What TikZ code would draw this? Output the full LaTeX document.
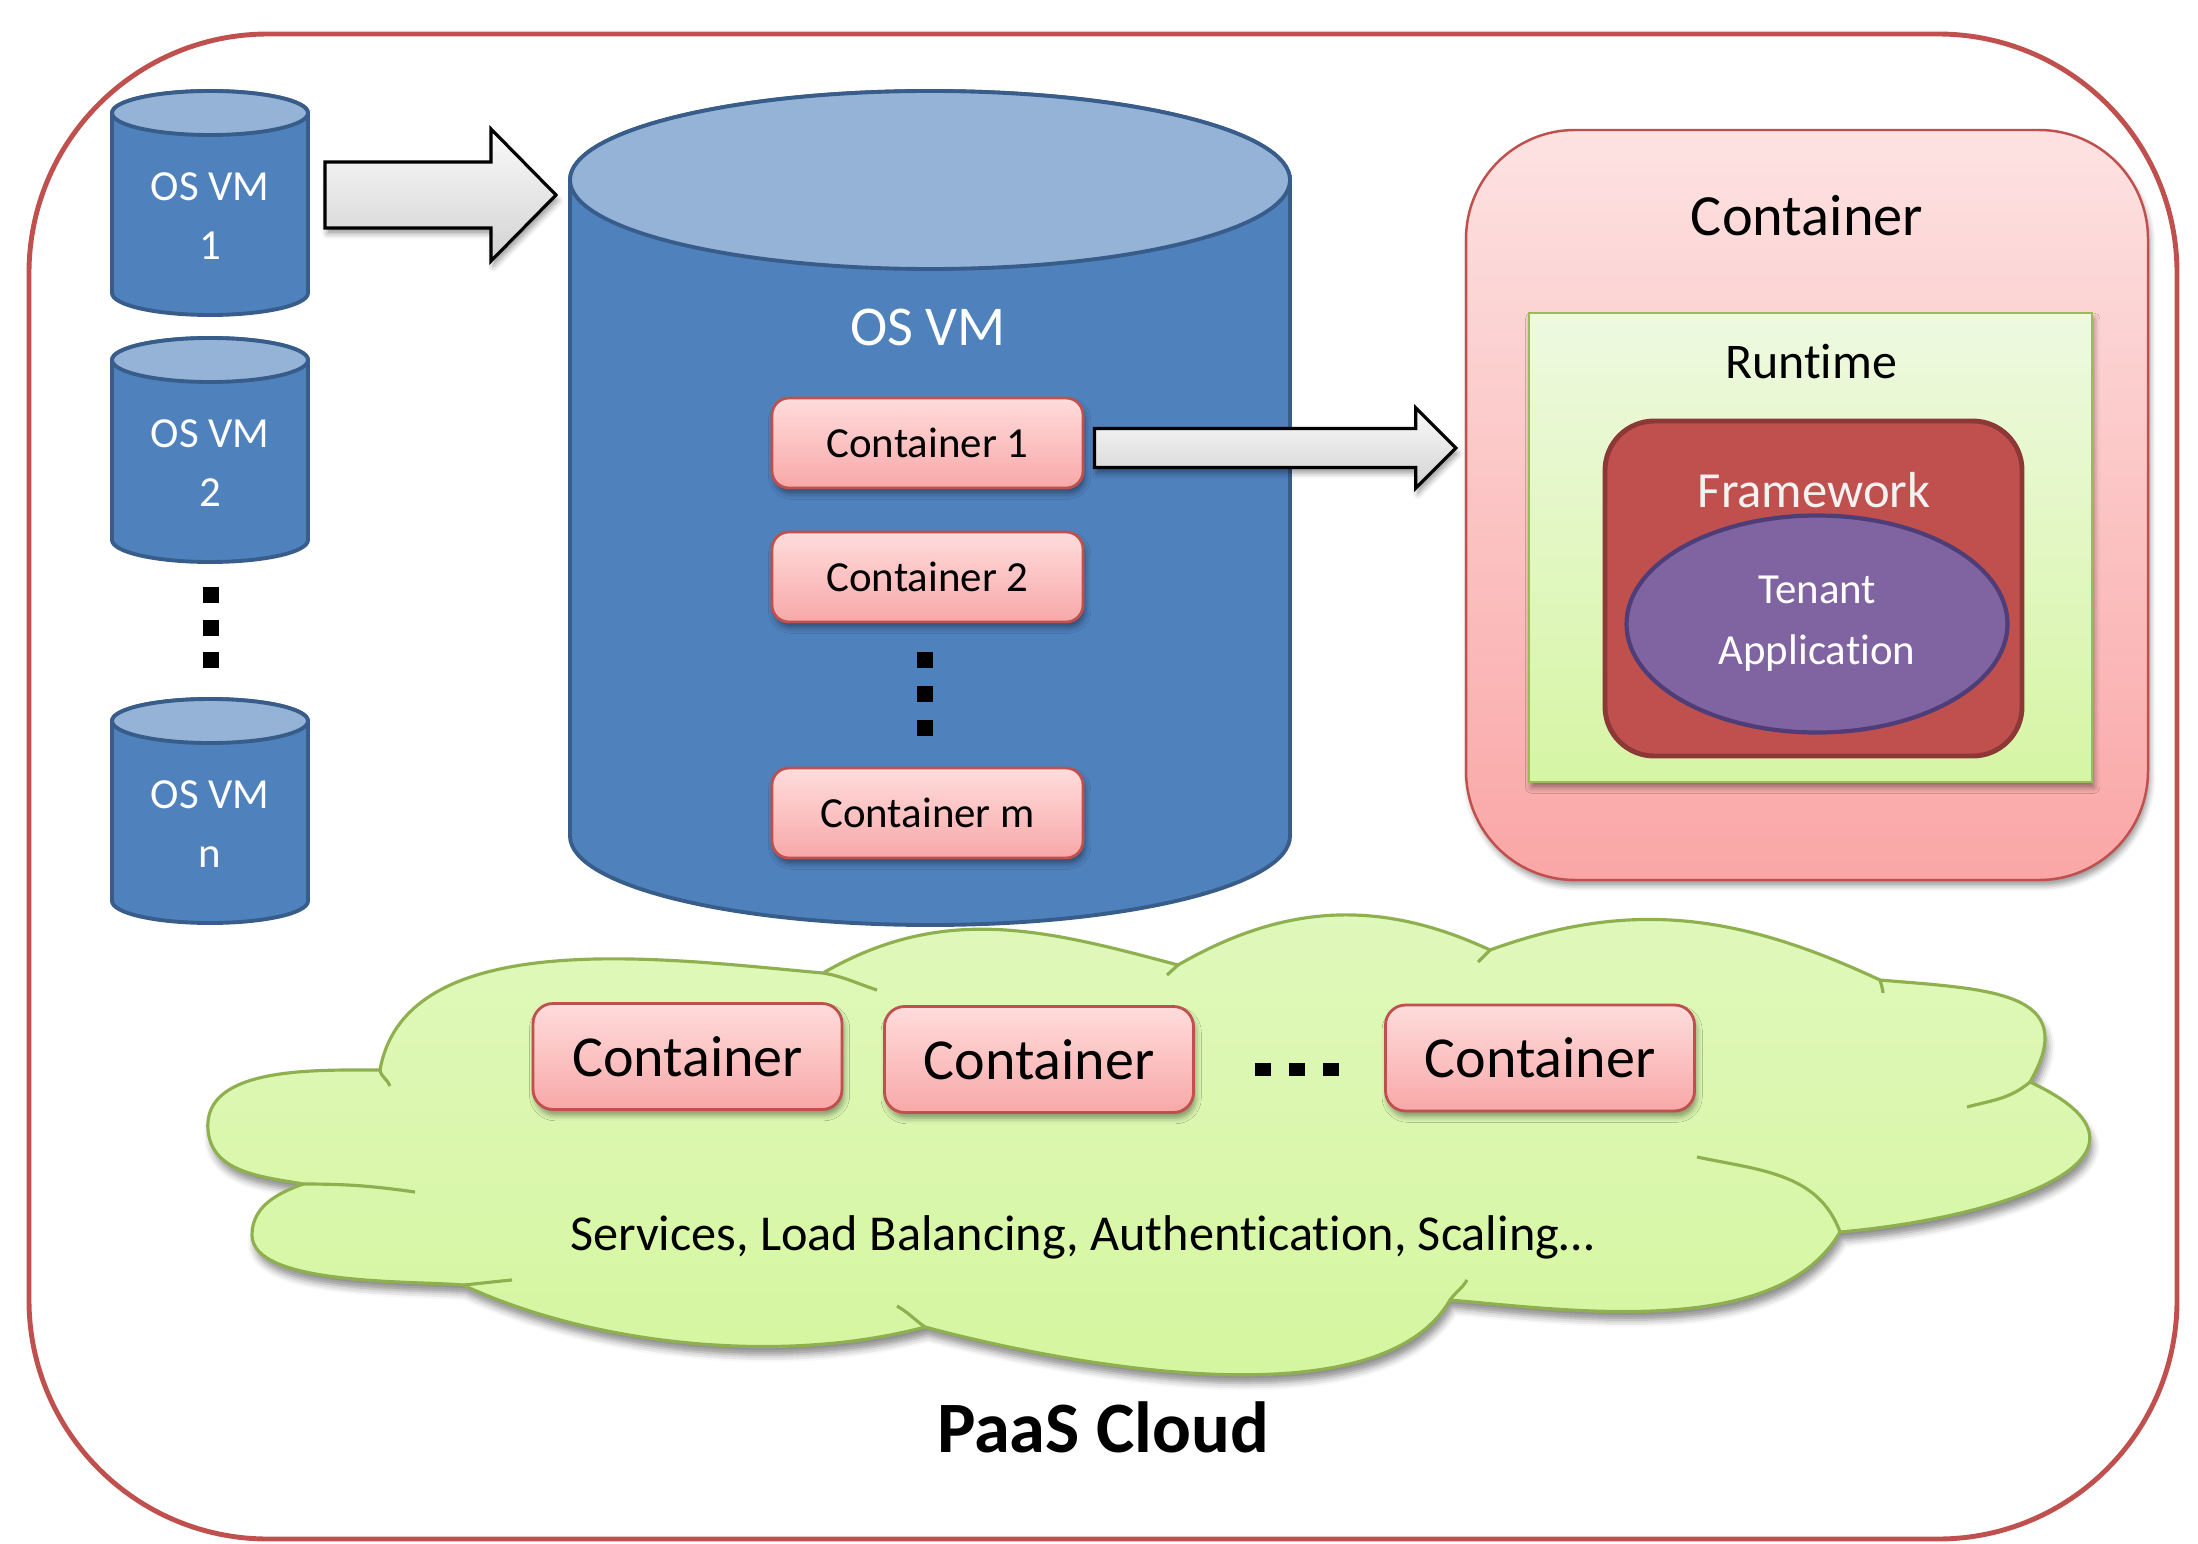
\documentclass[tikz,border=0pt]{standalone}
\usepackage{fontspec}
\setmainfont{Carlito}[Ligatures = NoCommon]
\usepackage{tikz}
\usetikzlibrary{calc, shapes.geometric, shadows.blur}
\definecolor{rossoCornice}{HTML}{C0504D}
\definecolor{bluCorpo}{HTML}{4F81BD}
\definecolor{bluCima}{HTML}{95B3D7}
\definecolor{bluBordo}{HTML}{385D8A}
\definecolor{rosaChiaro}{HTML}{FFDCDC}
\definecolor{rosaScuro}{HTML}{F8A8A8}
\definecolor{rosaChiaroB}{HTML}{FDE2E2}
\definecolor{rosaScuroB}{HTML}{FAA6A6}
\definecolor{verdeChiaro}{HTML}{EEF9E0}
\definecolor{verdeScuro}{HTML}{D6F5A4}
\definecolor{verdeBordo}{HTML}{9BBB59}
\definecolor{rossoBordo}{HTML}{8C3836}
\definecolor{viola}{HTML}{8064A2}
\definecolor{violaBordo}{HTML}{4F3D78}
\definecolor{nuvolaChiaro}{HTML}{E0F8BC}
\definecolor{nuvolaScuro}{HTML}{D4F69D}
\definecolor{nuvolaBordo}{HTML}{8FB04E}
\newcommand{\cilindro}[6]{
\filldraw[corpoCil] (#2-#4,#3) -- (#2-#4,#3-#6) arc[start angle=180, end angle=360, x radius=#4, y radius=#5] -- (#2+#4,#3) arc[start angle=0, end angle=180, x radius=#4, y radius=#5] -- cycle;
\filldraw[cimaCil] (#2,#3) ellipse[x radius=#4, y radius=#5];
\coordinate (#1-e) at (#2+#4,#3-#6/2);
\coordinate (#1-w) at (#2-#4,#3-#6/2);
}
\newcommand{\frecciaGrossa}[5]{
\draw[grossa] ($(#1)+(0,#3)$) -- ($(#2)+(-#5,#3)$) -- ($(#2)+(-#5,#4)$) -- (#2) -- ($(#2)+(-#5,-#4)$) -- ($(#2)+(-#5,-#3)$) -- ($(#1)+(0,-#3)$) -- cycle;
}

\begin{document}
\begin{tikzpicture}[x = 0.1mm, y = 0.1mm,
    cornice/.style = {draw = rossoCornice, line width = 1.4pt, rounded corners = 68pt},
    corpoCil/.style = {fill = bluCorpo, draw = bluBordo, line width = 1.1pt},
    cimaCil/.style = {fill = bluCima, draw = bluBordo, line width = 1.1pt},
    testoVM/.style = {text = white, align = center, font = \fontsize{12.2}{17}\selectfont},
    ombra/.style = {blur shadow = {shadow xshift = 0.6pt, shadow yshift = -1.6pt, shadow blur radius = 1.6pt, shadow opacity = 40}},
    grossa/.style = {draw = black, line width = 0.9pt, top color = gray!4, bottom color = gray!35, ombra},
    contenitore/.style = {rectangle, rounded corners = 4.8pt, draw = rossoCornice, line width = 0.8pt, top color = rosaChiaro, bottom color = rosaScuro, minimum width = 31.1mm, minimum height = 9mm, font = \fontsize{12.2}{14}\selectfont, ombra},
    contenitoreN/.style = {contenitore, rounded corners = 5.7pt, minimum width = 30.9mm, minimum height = 10.6mm, font = \fontsize{16.5}{19}\selectfont},
    scatola/.style = {rectangle, rounded corners = 31pt, draw = rossoCornice, line width = 0.7pt, top color = rosaChiaroB, bottom color = rosaScuroB, minimum width = 68.2mm, minimum height = 75mm, ombra},
    runtime/.style = {rectangle, draw = verdeBordo, line width = 0.7pt, top color = verdeChiaro, bottom color = verdeScuro, minimum width = 56.3mm, minimum height = 46.9mm, ombra},
    framework/.style = {rectangle, rounded corners = 14pt, fill = rossoCornice, draw = rossoBordo, line width = 1.4pt, minimum width = 41.7mm, minimum height = 33.5mm},
    tenant/.style = {ellipse, fill = viola, draw = violaBordo, line width = 1.2pt, minimum width = 38.1mm, minimum height = 21.7mm, inner sep = 0pt, text = white, align = center, font = \fontsize{12.2}{17.4}\selectfont},
    nuvola/.style = {draw = nuvolaBordo, line width = 0.9pt, top color = nuvolaChiaro, bottom color = nuvolaScuro, blur shadow = {shadow xshift = 0.8pt, shadow yshift = -2.4pt, shadow blur radius = 2pt, shadow opacity = 45}}]
    % Parametri
    \pgfmathsetmacro{\xc}{210}
    \pgfmathsetmacro{\rc}{98}
    \pgfmathsetmacro{\ryc}{22}
    \pgfmathsetmacro{\hc}{180}
    \useasboundingbox (0,0) rectangle (2198,-1543);
    % Cornice
    \draw[cornice] (29,-34) rectangle (2177,-1539);
    % Cilindri piccoli
    \cilindro{cil1}{\xc}{-113}{\rc}{\ryc}{\hc}
    \cilindro{cil2}{\xc}{-360}{\rc}{\ryc}{\hc}
    \cilindro{ciln}{\xc}{-721}{\rc}{\ryc}{\hc}
    \node[testoVM] (vm1) at (\xc,-216) {OS VM\\1};
    \node[testoVM] (vm2) at (\xc,-463) {OS VM\\2};
    \node[testoVM] (vmn) at (\xc,-824) {OS VM\\n};
    \foreach \k in {0,1,2} \fill (203,-587-32.5*\k) rectangle ++(16,-16);
    % Cilindro grande
    \cilindro{cilG}{930}{-180}{360}{89}{656}
    \node[text = white, font = \fontsize{16}{19}\selectfont] (vmG) at (928,-327) {OS VM};
    \node[contenitore] (c1) at (927.5,-443) {Container 1};
    \node[contenitore] (c2) at (927.5,-577) {Container 2};
    \node[contenitore] (cm) at (927.5,-813) {Container m};
    \foreach \k in {0,1,2} \fill (917,-652-34*\k) rectangle ++(16,-16);
    % Frecce
    \coordinate (coda1) at ($(cil1-e)+(17,8)$);
    \coordinate (punta1) at ($(cilG-w |- coda1)+(-14,0)$);
    \frecciaGrossa{coda1}{punta1}{33}{66}{65}
    % Container
    \node[scatola] (cbox) at (1807,-505) {};
    \node[font = \fontsize{16.6}{19}\selectfont] (ctit) at (1807,-216) {Container};
    \node[runtime] (rt) at (1810.5,-547.5) {};
    \node[font = \fontsize{14.2}{17}\selectfont] (rtit) at (1811,-362) {Runtime};
    \node[framework] (fw) at (1813.5,-588.5) {};
    \node[text = white!95!black, font = \fontsize{14.4}{17}\selectfont] (fwtit) at (1814,-490) {Framework};
    \node[tenant] (ten) at (1817,-624) {Tenant\\Application};
    \coordinate (coda2) at ($(c1.east)+(10,-5)$);
    \coordinate (punta2) at ($(cbox.west |- coda2)+(-9,0)$);
    \frecciaGrossa{coda2}{punta2}{19.5}{40}{40}
    % Nuvola
    \draw[nuvola] (380,-1070)
        to[out = 80, in = 175, looseness = 0.85] (823,-973)
        to[out = 30, in = 165] (1178,-965)
        to[out = 30, in = 155] (1490,-950)
        to[out = 20, in = 155] (1880,-980)
        to[out = -5, in = 60, looseness = 1.5] (2030,-1082)
        to[out = -25, in = 5, looseness = 1.8] (1840,-1232)
        to[out = -120, in = -5, looseness = 0.8] (1450,-1300)
        to[out = -120, in = -15, looseness = 0.7] (925,-1327)
        to[out = -165, in = -25, looseness = 0.8] (463,-1285)
        to[out = 175, in = -90, looseness = 0.6] (252,-1235)
        to[out = 90, in = -160] (303,-1184)
        to[out = 170, in = -85] (208,-1130)
        to[out = 95, in = 180, looseness = 0.9] (380,-1070)
        -- cycle;
    \draw[draw = nuvolaBordo, line width = 0.9pt]
        (380,-1070) to[out = -80, in = 110] (390,-1086)
        (823,-973) to[out = -10, in = 162] (877,-990)
        (1178,-965) -- (1167,-975)
        (1490,-950) -- (1478,-962)
        (1880,-980) to[out = -75, in = 95] (1883,-993)
        (2030,-1082) to[out = -140, in = 15] (1967,-1107)
        (1697,-1157) to[out = -12, in = 110] (1840,-1232)
        (1450,-1300) to[out = 55, in = -120] (1467,-1280)
        (925,-1327) to[out = 145, in = -30] (897,-1306)
        (463,-1285) to[out = 5, in = 185] (512,-1280)
        (303,-1184) to[out = 0, in = 172] (415,-1192);
    \node[contenitoreN] (n1) at (687.5,-1056.5) {Container};
    \node[contenitoreN] (n2) at (1039,-1059.5) {Container};
    \node[contenitoreN] (n3) at (1540,-1058) {Container};
    \foreach \k in {0,1,2} \fill (1255+34*\k,-1063) rectangle ++(16,-13);
    \node[anchor = base, font = \fontsize{14.3}{17}\selectfont] (servizi) at (1082,-1250) {Services, Load Balancing, Authentication, Scaling…};
    % Titolo
    \node[anchor = base, font = \bfseries\fontsize{20.6}{24}\selectfont] (paas) at (1103,-1452) {PaaS Cloud};
\end{tikzpicture}
\end{document}
